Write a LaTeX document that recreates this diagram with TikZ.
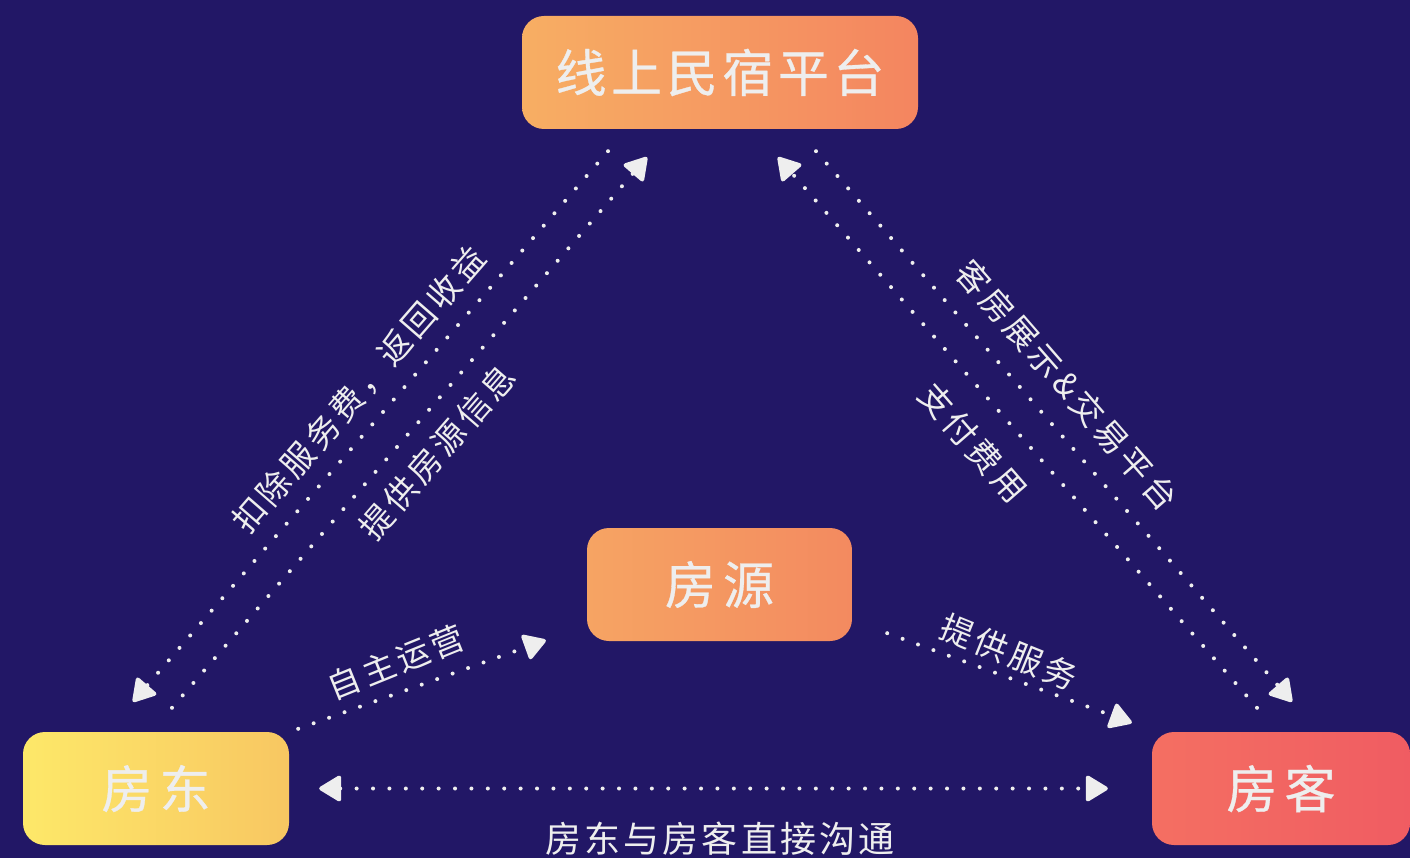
\documentclass[tikz,border=0pt]{standalone}
\usepackage{fontspec}
\usetikzlibrary{arrows.meta,calc}
\newfontfamily\cjkT[LetterSpace=9,FakeBold=0.6]{Noto Sans CJK SC}
\newfontfamily\cjkB[LetterSpace=14,FakeBold=0.6]{Noto Sans CJK SC}
\newfontfamily\cjkL[LetterSpace=12]{Noto Sans CJK SC}
\newfontfamily\cjkM[LetterSpace=9]{Noto Sans CJK SC}
\definecolor{bg}{HTML}{221766}
\definecolor{txt}{HTML}{EEEEEE}
\definecolor{platL}{HTML}{F7AE63}
\definecolor{platR}{HTML}{F48560}
\definecolor{srcL}{HTML}{F6A463}
\definecolor{srcR}{HTML}{F38A60}
\definecolor{llL}{HTML}{FDE869}
\definecolor{llR}{HTML}{F8C762}
\definecolor{guL}{HTML}{F46F62}
\definecolor{guR}{HTML}{F05C62}
\begin{document}
\begin{tikzpicture}[x=1pt,y=-1pt,
  box/.style={rounded corners=22pt, minimum height=113pt, inner sep=0pt, text=txt,
    font=\cjkB\fontsize{51}{60}\selectfont},
  conn/.style={draw=txt, line width=4pt, line cap=round, dash pattern=on 0pt off 16.4pt,
    >={Triangle[length=24pt,width=28pt,round]}},
  lab/.style={text=txt, inner sep=0pt, font=\cjkL\fontsize{33}{38}\selectfont},
  labB/.style={text=txt, inner sep=0pt, font=\cjkM\fontsize{36}{40}\selectfont}]
\fill[bg] (0,0) rectangle (1410,858);
\useasboundingbox (0,0) rectangle (1410,858);
% boxes
\node[box, minimum width=396pt, left color=platL, right color=platR,
  font=\cjkT\fontsize{51}{60}\selectfont] (plat) at (720,72.5) {线上民宿平台};
\node[box, minimum width=265pt, left color=srcL, right color=srcR] (src) at (719.5,584.5) {房源};
\node[box, minimum width=266pt, left color=llL, right color=llR] (ll) at (156,788.5) {房东};
\node[box, minimum width=258pt, left color=guL, right color=guR] (gu) at (1281,788.5) {房客};
% connectors
\draw[conn,->] ($(plat.south)+(-112,22)$) -- ($(ll.north)+(-23,-30)$);
\draw[conn,->] ($(ll.north)+(16,-24)$) -- ($(plat.south)+(-73,28)$);
\draw[conn,->] ($(plat.south)+(96,22)$) -- ($(gu.north)+(11,-30)$);
\draw[conn,->] ($(gu.north)+(-24,-24)$) -- ($(plat.south)+(58,28)$);
\draw[conn,->] ($(ll.north east)+(9,-3)$) -- ($(src.south west)+(-41,-1)$);
\draw[conn,->] ($(src.south east)+(35,-8)$) -- ($(gu.north west)+(-20,-9)$);
\draw[conn,<->] ($(ll.east)+(30,0)$) -- ($(gu.west)+(-44,0)$);
% labels
\node[lab, rotate=49] (l1) at (359,390) {扣除服务费，返回收益};
\node[lab, rotate=49] (l2) at (437,452) {提供房源信息};
\node[lab, rotate=-49] (l3) at (1067,385) {客房展示\&交易平台};
\node[lab, rotate=-49] (l4) at (973,443) {支付费用};
\node[lab, rotate=22] (l5) at (396,662) {自主运营};
\node[lab, rotate=-22] (l6) at (1009,652) {提供服务};
\node[labB] (l7) at (720,839) {房东与房客直接沟通};
\end{tikzpicture}
\end{document}
